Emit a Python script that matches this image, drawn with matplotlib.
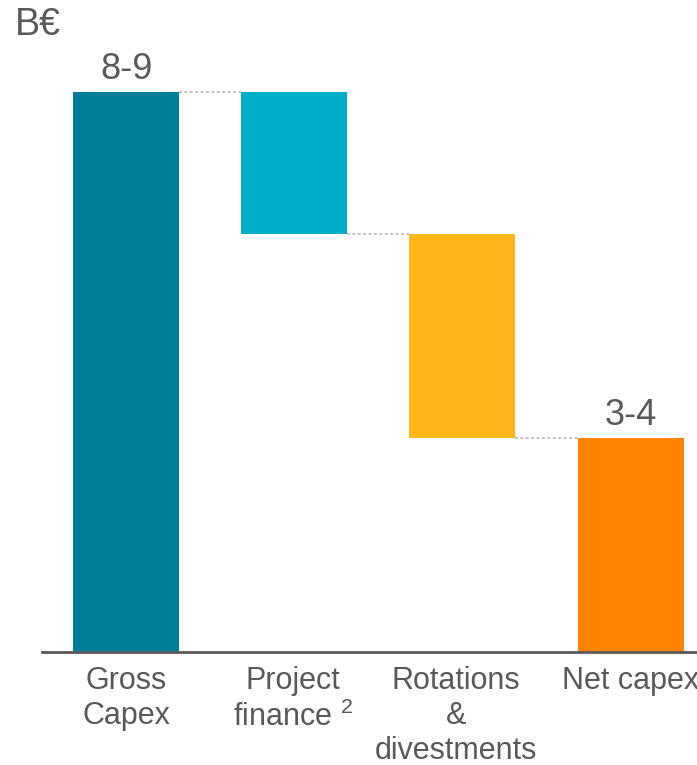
import matplotlib
matplotlib.use('Agg')
import matplotlib.pyplot as plt
import matplotlib.transforms as mtransforms

plt.rcParams['font.family'] = ['Liberation Sans', 'DejaVu Sans']
plt.rcParams['mathtext.fontset'] = 'custom'
plt.rcParams['mathtext.rm'] = 'Liberation Sans'
plt.rcParams['mathtext.it'] = 'Liberation Sans'

# ── Data ─────────────────────────────────────────────────────────────────
categories = ["Gross\nCapex", "Project\nfinance $^{2}$", "Rotations\n&\ndivestments", "Net capex"]
steps      = [8.5, -2.15, -3.1]          # gross, then deductions
net_value  = 3.25
value_text = {0: "8-9", 3: "3-4"}
colors     = ["#007E98", "#00AEC7", "#FDB71A", "#FF8200"]
unit_label = "B€"
grey       = "#595959"

# waterfall bottoms / heights
bottoms, heights = [], []
level = 0
for i, s in enumerate(steps):
    if i == 0:
        bottoms.append(0); heights.append(s); level = s
    else:
        level += s
        bottoms.append(level); heights.append(-s)
bottoms.append(0); heights.append(net_value)

fig = plt.figure(figsize=(6.97, 7.65), dpi=100)
ax = fig.add_axes([42/697, 113/765, 655/697, 652/765])

x = list(range(len(categories)))
width = 0.63
ax.bar(x, heights, width, bottom=bottoms, color=colors)

# dotted connectors
tops = [b + h for b, h in zip(bottoms, heights)]
levels = [tops[0], bottoms[1], bottoms[2]]
for i, lv in enumerate(levels):
    ax.plot([i + width/2, i + 1 - width/2], [lv, lv], color="#BBBBBB",
            linestyle=(0, (1.5, 1.5)), linewidth=1.3)

for i, t in value_text.items():
    ax.text(i, tops[i] + 0.08, t, ha="center", va="bottom", fontsize=26, color=grey)

ax.set_xlim(-0.5, 3.395)
ax.set_ylim(0, 652/65.88)
for sp in ["top", "right", "left"]:
    ax.spines[sp].set_visible(False)
ax.spines["bottom"].set_color(grey)
ax.spines["bottom"].set_linewidth(2)
ax.set_yticks([])
ax.set_xticks([])

# category labels under the axis
trans = mtransforms.blended_transform_factory(ax.transData, ax.transAxes)
label_shift = [0, -0.01, -0.04, 0]
for i, lab in enumerate(categories):
    ax.text(x[i] + label_shift[i], -0.022, lab, transform=trans, ha="center", va="top",
            fontsize=22, color=grey, linespacing=1.21, clip_on=False)

fig.text(15/697, 1 - 25/765, unit_label, ha="left", va="center", fontsize=27, color=grey)

plt.savefig("out.png", dpi=100)
plt.close()
